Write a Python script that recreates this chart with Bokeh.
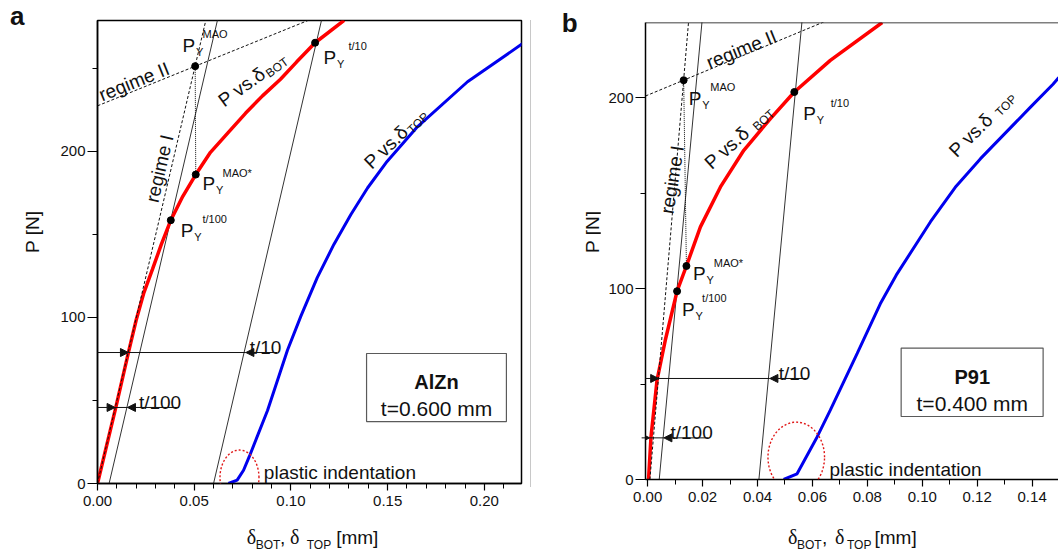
import math
from bokeh.plotting import figure
from bokeh.layouts import row, column
from bokeh.models import (Range1d, Label, Arrow, NormalHead, BoxAnnotation, PolyAnnotation,
                          Span, SingleIntervalTicker, PrintfTickFormatter, Div)
from bokeh.embed import file_html
from bokeh.resources import INLINE

FONT = "Liberation Sans"
SERIF = "Liberation Serif"
INK = "#111111"
RED = "#ff0000"
BLUE = "#0000ee"

# ---------------- Panel a : AlZn, t = 0.600 mm ----------------
a_bot_x = [0.0, 0.0095, 0.016, 0.0200, 0.0240, 0.0284, 0.0330, 0.0379, 0.0441, 0.0508,
           0.0584, 0.068, 0.0765, 0.0853, 0.0946, 0.1030, 0.1125, 0.1275]
a_bot_p = [0, 46, 79, 98.5, 115, 129, 144, 158.6, 173, 186.1,
           199.5, 212, 223, 233.5, 243.5, 254, 265.5, 279]
a_top_x = [0.0677, 0.0722, 0.0755, 0.0784, 0.0879, 0.0982, 0.1052, 0.1136, 0.1222,
           0.1310, 0.1396, 0.1497, 0.1655, 0.1913, 0.2198]
a_top_p = [0, 2, 8, 16, 44, 80.3, 101, 124, 144, 162, 178, 194, 215, 242, 265]
a_reg1_x = [0.0, 0.0560]
a_reg1_p = [0, 279]
a_reg2_x = [0.0, 0.1090]
a_reg2_p = [227.5, 279]
a_t100_x = [0.006, 0.062]
a_t100_p = [0, 279]
a_t10_x = [0.060, 0.1158]
a_t10_p = [0, 279]
a_pt_names = ["MAO", "MAO*", "t/100", "t/10"]
a_pt_x = [0.0505, 0.0508, 0.0379, 0.1125]
a_pt_p = [251.4, 186.1, 158.6, 265.5]
# offset arrows: level P, line ends, tip on P-delta curve, tip on offset line
a_arr_t10 = dict(p=78.9, left=-0.0027, right=0.0929, tip_curve=0.0160, tip_line=0.0767)
a_arr_t100 = dict(p=45.8, left=-0.0109, right=0.0420, tip_curve=0.0091, tip_line=0.0155)

# ---------------- Panel b : P91, t = 0.400 mm ----------------
b_bot_x = [0.0003, 0.0012, 0.0034, 0.0064, 0.0107, 0.0141, 0.0192, 0.0265, 0.035, 0.0447,
           0.0534, 0.0665, 0.0854]
b_bot_p = [0, 22.3, 52, 72.9, 98.6, 111.8, 132.3, 153.2, 172.4, 189, 202.9, 219.5, 239.3]
b_top_x = [0.0495, 0.0544, 0.0617, 0.0665, 0.0763, 0.0847, 0.0905, 0.103, 0.112, 0.1212,
           0.1394, 0.1476, 0.1497]
b_top_p = [0, 3, 22.3, 36.3, 66, 92, 107, 135, 153, 168, 195, 207, 210.5]
b_reg1_x = [0.0008, 0.0149]
b_reg1_p = [0, 240]
b_reg2_x = [-0.0008, 0.066]
b_reg2_p = [200.8, 240.7]
b_t100_x = [0.0042, 0.0198]
b_t100_p = [0, 240]
b_t10_x = [0.0405, 0.0562]
b_t10_p = [0, 240]
b_pt_names = ["MAO", "MAO*", "t/100", "t/10"]
b_pt_x = [0.0131, 0.0141, 0.0107, 0.0534]
b_pt_p = [209.1, 111.8, 98.6, 202.9]
b_arr_t10 = dict(p=52.9, left=-0.0087, right=0.0582, tip_curve=0.0040, tip_line=0.0445)
b_arr_t100 = dict(p=21.8, left=-0.0117, right=0.0222, tip_curve=0.0007, tip_line=0.0059)


def make_panel(x0, x1, y1, fw, fh, mbl, mbr, mbt, mbb, xtick, xminor):
    p = figure(x_range=Range1d(x0, x1), y_range=Range1d(0, y1),
               frame_width=fw, frame_height=fh,
               min_border_left=mbl, min_border_right=mbr,
               min_border_top=mbt, min_border_bottom=mbb,
               output_backend="svg", toolbar_location=None,
               background_fill_color="white", border_fill_color="white")
    p.grid.visible = False
    p.outline_line_color = "black"
    p.outline_line_width = 1.5
    p.xaxis.ticker = SingleIntervalTicker(interval=xtick, num_minor_ticks=xminor)
    p.xaxis.formatter = PrintfTickFormatter(format="%.2f")
    p.yaxis.ticker = SingleIntervalTicker(interval=100, num_minor_ticks=2)
    for ax in (p.xaxis[0], p.yaxis[0]):
        ax.axis_line_width = 1.5
        ax.axis_line_color = "black"
        ax.major_tick_in = 0
        ax.minor_tick_in = 0
        ax.major_tick_line_color = "black"
        ax.minor_tick_line_color = "black"
        ax.major_tick_line_width = 1.2
        ax.minor_tick_line_width = 1
        ax.major_label_text_font = FONT
        ax.major_label_text_font_size = "15px"
        ax.major_label_text_color = INK
    p.xaxis.major_tick_out = 7
    p.xaxis.minor_tick_out = 5
    p.xaxis.major_label_standoff = 5
    p.yaxis.major_tick_out = 10
    p.yaxis.minor_tick_out = 5
    p.yaxis.major_label_standoff = 2
    scale = (fw / (x1 - x0), fh / y1)
    return p, scale


def lab(p, x, y, text, size, angle=0.0, bold=False, font=FONT, align="left",
        baseline="alphabetic", color=INK):
    p.add_layout(Label(x=x, y=y, text=text, angle=math.radians(angle), text_font=font,
                       text_font_size=f"{size}px",
                       text_font_style="bold" if bold else "normal",
                       text_align=align, text_baseline=baseline, text_color=color))


def shift(sc, x, y, right, down):
    kx, ky = sc
    return x + right / kx, y - down / ky


def rot_text(p, sc, x, y, main, sub, angle, along, drop):
    lab(p, x, y, main, 19, angle)
    t = math.radians(angle)
    right = along * math.cos(t) + drop * math.sin(t)
    down = -along * math.sin(t) + drop * math.cos(t)
    sx, sy = shift(sc, x, y, right, down)
    lab(p, sx, sy, sub, 12, angle)


def py_label(p, sc, x, y, sup, dx, dd, gap):
    px_, py_ = shift(sc, x, y, dx, dd)
    lab(p, px_, py_, "P", 19)
    yx, yy = shift(sc, px_, py_, 13.5, 6.5)
    lab(p, yx, yy, "Y", 11)
    sx_, sy_ = shift(sc, px_, py_, gap, -11)
    lab(p, sx_, sy_, sup, 11)


def dim_arrows(p, a):
    for start, tip in ((a["left"], a["tip_curve"]), (a["right"], a["tip_line"])):
        p.add_layout(Arrow(start=None,
                           end=NormalHead(size=8, fill_color=INK, line_color=INK, line_width=1),
                           x_start=start, y_start=a["p"], x_end=tip, y_end=a["p"],
                           line_color=INK, line_width=1))
    p.segment(x0=[a["tip_curve"]], y0=[a["p"]], x1=[a["tip_line"]], y1=[a["p"]],
              line_color=INK, line_width=1)


def dotted_ellipse(p, sc, cx, cy, rx, ry):
    kx, ky = sc
    n = 72
    xs = [cx + rx / kx * math.cos(2 * math.pi * i / n) for i in range(n)]
    ys = [cy + ry / ky * math.sin(2 * math.pi * i / n) for i in range(n)]
    p.add_layout(PolyAnnotation(xs=xs, ys=ys, fill_alpha=0, line_color="#e01818",
                                line_alpha=1.0, line_width=1.4, line_dash="2 2"))


def draw_common(p, bot_x, bot_p, top_x, top_p, reg1, reg2, t100, t10, ptx, ptp, names):
    p.line(t100[0], t100[1], line_color="#333333", line_width=1)
    p.line(t10[0], t10[1], line_color="#333333", line_width=1)
    p.line(bot_x, bot_p, line_color=RED, line_width=3.5)
    p.line(top_x, top_p, line_color=BLUE, line_width=3)
    p.line(reg1[0], reg1[1], line_color=INK, line_width=1, line_dash="3 2")
    p.line(reg2[0], reg2[1], line_color=INK, line_width=1, line_dash="3 2")
    i0, i1 = names.index("MAO"), names.index("MAO*")
    p.line([ptx[i0], ptx[i1]], [ptp[i0], ptp[i1]], line_color=INK, line_width=1, line_dash="1 1")
    p.scatter(ptx, ptp, size=7, color="black")


# ---------- HTML helpers for texts outside the plotting frames ----------
def span_at(text, left, baseline, size, font=FONT, bold=False, k=None):
    if k is None:
        k = 0.8375 if font == SERIF else 0.8465
    top = baseline - k * size
    w = "bold" if bold else "normal"
    return (f'<span style="position:absolute;left:{left:.1f}px;top:{top:.1f}px;'
            f'font-family:\'{font}\';font-size:{size}px;font-weight:{w};line-height:1;'
            f'white-space:nowrap;color:{INK}">{text}</span>')


def rotated_at(text, cx, cy, size):
    return (f'<span style="position:absolute;left:{cx:.1f}px;top:{cy:.1f}px;'
            f'transform:translate(-50%,-50%) rotate(-90deg);font-family:\'{FONT}\';'
            f'font-size:{size}px;line-height:1;white-space:nowrap;color:{INK}">{text}</span>')


def box_html(w, h, inner):
    return (f'<div style="position:relative;width:{w}px;height:{h}px;margin:0;padding:0;'
            f'overflow:visible">{inner}</div>')


def x_title_html(w, h, top, x0, offs):
    pieces = [("δ", 0, 0, 20, SERIF), ("BOT", offs[0], 5, 12, FONT), (",", offs[1], 0, 19, FONT),
              ("δ", offs[2], 0, 20, SERIF), ("TOP", offs[3], 5, 12, FONT),
              ("[mm]", offs[4], 0, 19, FONT)]
    inner = "".join(span_at(t, x0 + dx, 544 + dy - top, s, font=f) for t, dx, dy, s, f in pieces)
    return box_html(w, h, inner)


def mk_div(html, w, h):
    return Div(text=html, width=w, height=h, margin=0, styles={"overflow": "visible"})


def note_box(p, left, right, bottom, top):
    p.add_layout(BoxAnnotation(left=left, right=right, bottom=bottom, top=top,
                               fill_color="white", fill_alpha=1, line_color="#5a5a5a",
                               line_alpha=1.0, line_width=1.2))


# ================= Panel a =================
pa, sa = make_panel(0.0, 0.2192, 278.9, 424, 463, 52, 9, 20, 37, 0.05, 5)
draw_common(pa, a_bot_x, a_bot_p, a_top_x, a_top_p, (a_reg1_x, a_reg1_p),
            (a_reg2_x, a_reg2_p), (a_t100_x, a_t100_p), (a_t10_x, a_t10_p),
            a_pt_x, a_pt_p, a_pt_names)
dim_arrows(pa, a_arr_t10)
dim_arrows(pa, a_arr_t100)
lab(pa, 0.0787, 81.7, "t/10", 19)
lab(pa, 0.0214, 49.0, "t/100", 19)
a_lab_off = {"MAO": (-12.6, -21, 20), "MAO*": (6.7, 9, 20), "t/100": (10, 10, 21.7),
             "t/10": (8.4, 14.3, 25)}
for n, x, y in zip(a_pt_names, a_pt_x, a_pt_p):
    dx, dd, g = a_lab_off[n]
    py_label(pa, sa, x, y, n, dx, dd, g)
rot_text(pa, sa, 0.0636, 229.5, "P vs.δ", "BOT", 36, 54, 5)
rot_text(pa, sa, 0.1394, 191.6, "P vs.δ", "TOP", 44, 54, 5)
lab(pa, 0.0012, 233.7, "regime II", 19, angle=22)
lab(pa, 0.0281, 169.5, "regime I", 19, angle=77)
dotted_ellipse(pa, sa, 0.0734, 3.6, 19.5, 27.5)
lab(pa, 0.086, 6.8, "plastic indentation", 19)
note_box(pa, 0.1391, 0.2114, 37.3, 78.3)
lab(pa, 0.1753, 61.0, "AlZn", 20, bold=True, align="center")
lab(pa, 0.1753, 45.2, "t=0.600 mm", 21, align="center")

div_la = mk_div(box_html(45, 520, span_at("a", 10, 25, 26, bold=True)
                         + rotated_at("P [N]", 32, 232, 19)), 45, 520)
div_xa = mk_div(x_title_html(530, 30, 520, 246.7, (9.0, 33.3, 43.3, 60.0, 89.5)), 530, 30)

# ================= Panel b =================
pb, sb = make_panel(-0.0008, 0.1496, 239.3, 413, 457, 45, 0, 22, 41, 0.02, 2)
pb.outline_line_color = None
pb.add_layout(Span(location=239.3, dimension="width", line_color="black", line_width=1.5))
draw_common(pb, b_bot_x, b_bot_p, b_top_x, b_top_p, (b_reg1_x, b_reg1_p),
            (b_reg2_x, b_reg2_p), (b_t100_x, b_t100_p), (b_t10_x, b_t10_p),
            b_pt_x, b_pt_p, b_pt_names)
dim_arrows(pb, b_arr_t10)
dim_arrows(pb, b_arr_t100)
lab(pb, 0.0477, 55.7, "t/10", 19)
lab(pb, 0.0083, 24.5, "t/100", 19)
b_lab_off = {"MAO": (5, 18.3, 21.7), "MAO*": (6.7, 7.6, 20.6), "t/100": (5, 18.3, 20),
             "t/10": (9, 21.6, 27.4)}
for n, x, y in zip(b_pt_names, b_pt_x, b_pt_p):
    dx, dd, g = b_lab_off[n]
    py_label(pb, sb, x, y, n, dx, dd, g)
rot_text(pb, sb, 0.0217, 164.4, "P vs.δ", "BOT", 42, 60, 4)
rot_text(pb, sb, 0.1109, 170.6, "P vs.δ", "TOP", 45, 60, 4)
lab(pb, 0.0217, 218.0, "regime II", 19, angle=22)
lab(pb, 0.0070, 139.3, "regime I", 19, angle=81)
dotted_ellipse(pb, sb, 0.0541, 11.7, 28.3, 35)
lab(pb, 0.0662, 5.1, "plastic indentation", 19)
note_box(pb, 0.0923, 0.1440, 33.0, 68.8)
lab(pb, 0.1182, 53.9, "P91", 20, bold=True, align="center")
lab(pb, 0.1182, 39.8, "t=0.400 mm", 21, align="center")

sep = ('<div style="position:absolute;left:0px;top:20px;width:1px;height:467px;'
       'background:#c8c8c8"></div>')
div_lb = mk_div(box_html(70, 520, sep + span_at("b", 31.7, 31.7, 26, bold=True)
                         + rotated_at("P [N]", 61.7, 231.7, 19)), 70, 520)
div_xb = mk_div(x_title_html(528, 30, 520, 258.0, (9.0, 34.0, 47.0, 59.0, 86.5)), 528, 30)

layout = row(column(row(div_la, pa), div_xa), column(row(div_lb, pb), div_xb))
open("out.html", "w").write(file_html(layout, INLINE))
